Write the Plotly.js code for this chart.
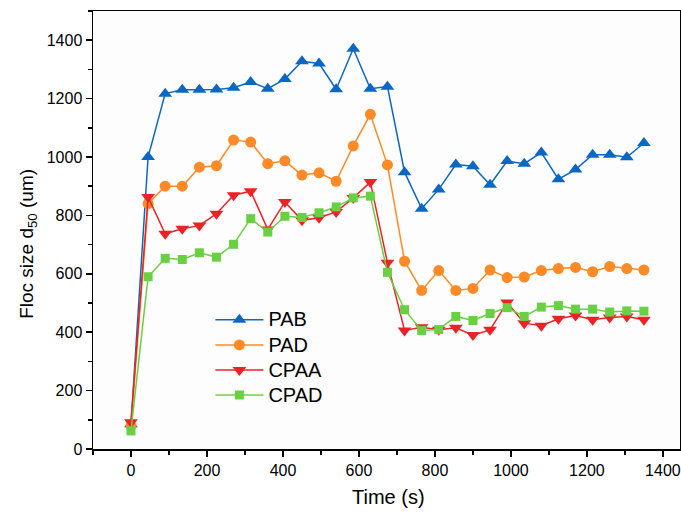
<!DOCTYPE html>
<html>
<head>
<meta charset="utf-8">
<script src="https://cdn.plot.ly/plotly-3.0.1.min.js"></script>
<style>
  html, body { margin: 0; padding: 0; background: #fff; }
  #chart { width: 681px; height: 515px; }
</style>
</head>
<body>
<div id="chart"></div>
<script>
// Sampling times (s)
const time = [0, 45, 90, 135, 180, 225, 270, 315, 360, 405, 450, 495, 540, 585, 630, 675,
              720, 765, 810, 855, 900, 945, 990, 1035, 1080, 1125, 1170, 1215, 1260, 1305, 1350];

// Floc size d50 (um) per coagulant
const pab  = [85, 1000, 1217, 1230, 1230, 1231, 1237, 1257, 1234, 1267, 1328, 1320, 1232, 1371, 1234, 1241,
              948, 823, 889, 974, 968, 905, 986, 977, 1015, 924, 957, 1008, 1008, 999, 1048];
const pad  = [80, 840, 900, 900, 965, 970, 1058, 1051, 977, 987, 938, 946, 917, 1038, 1146, 973,
              643, 543, 611, 543, 550, 613, 587, 589, 611, 618, 622, 607, 625, 618, 613];
const cpaa = [92, 863, 737, 754, 765, 806, 869, 883, 752, 846, 783, 792, 812, 860, 914, 638,
              406, 417, 408, 415, 390, 408, 502, 431, 422, 446, 457, 443, 450, 454, 443];
const cpad = [62, 590, 653, 649, 672, 657, 701, 789, 743, 797, 793, 809, 829, 860, 866, 605,
              477, 406, 409, 454, 440, 464, 484, 454, 486, 491, 479, 479, 469, 473, 472];

const seriesNames = ['PAB', 'PAD', 'CPAA', 'CPAD'];
const xTitle = 'Time (s)';
const yTitle = 'Floc size d<sub>50</sub> (um)';

// Legend entries use a larger glyph size than the legend's row height
function legendLabel(name) {
  return '<span style="font-size:20px">' + name + '</span>';
}

function trace(name, y, color, symbol, size) {
  return {
    x: time, y: y, name: legendLabel(name), type: 'scatter', mode: 'lines+markers',
    line: { color: color, width: 1.5 },
    marker: { color: color, symbol: symbol, size: size }
  };
}

const data = [
  trace(seriesNames[0], pab,  '#0a67c3', 'triangle-up',   12),
  trace(seriesNames[1], pad,  '#ff8a26', 'circle',        11),
  trace(seriesNames[2], cpaa, '#ec2326', 'triangle-down', 12),
  trace(seriesNames[3], cpad, '#6ad043', 'square',        9)
];

const FONT = 'Liberation Sans, Arial, sans-serif';
const tickFont = { family: FONT, size: 16, color: '#000' };

function axis(range) {
  return {
    range: range,
    tickvals: [0, 200, 400, 600, 800, 1000, 1200, 1400],
    ticks: 'outside', ticklen: 6, tickwidth: 1.5, tickcolor: '#000',
    minor: { dtick: 100, tick0: 0, ticks: 'outside', ticklen: 4, tickwidth: 1.5, tickcolor: '#000' },
    showline: true, linecolor: '#000', linewidth: 1.5, mirror: true,
    showgrid: false, zeroline: false,
    tickfont: tickFont
  };
}

const layout = {
  width: 681, height: 515,
  margin: { l: 93, r: 1, t: 11, b: 66 },
  paper_bgcolor: '#fff', plot_bgcolor: '#fdfdfd',
  font: { family: FONT, color: '#000' },
  showlegend: true,
  legend: {
    x: 0.2, y: 0.335, xanchor: 'left', yanchor: 'top',
    bgcolor: 'rgba(0,0,0,0)', borderwidth: 0,
    itemwidth: 48,
    font: { family: FONT, size: 17, color: '#000' },
    tracegroupgap: 0
  },
  xaxis: axis([-100, 1445]),
  yaxis: axis([0, 1500]),
  annotations: [
    { text: xTitle, xref: 'paper', yref: 'paper', x: 0.503, y: -0.11,
      xanchor: 'center', yanchor: 'middle', showarrow: false,
      font: { family: FONT, size: 20, color: '#000' } },
    { text: yTitle, xref: 'paper', yref: 'paper', x: -0.111, y: 0.468, textangle: -90,
      xanchor: 'center', yanchor: 'middle', showarrow: false,
      font: { family: FONT, size: 19, color: '#000' } }
  ]
};

Plotly.newPlot('chart', data, layout, { displayModeBar: false, staticPlot: true });
</script>
</body>
</html>
